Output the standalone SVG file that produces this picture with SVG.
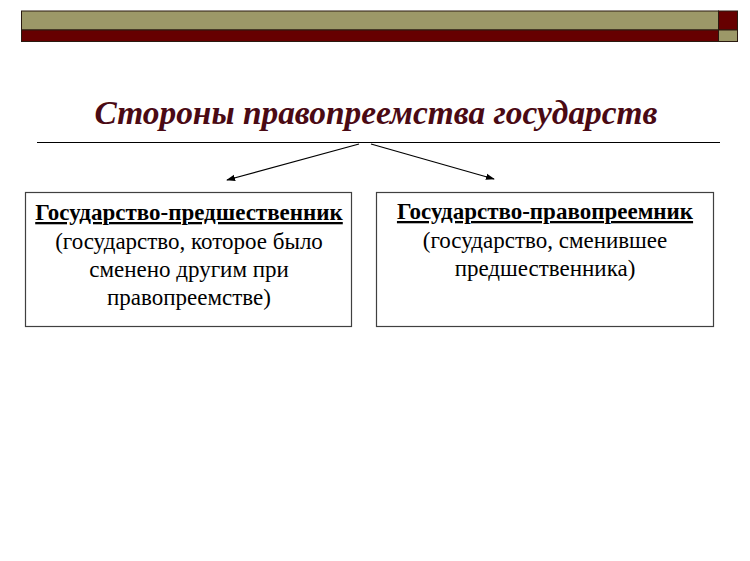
<svg xmlns="http://www.w3.org/2000/svg" width="750" height="561" viewBox="0 0 750 561">
<defs>
<style>
.bar{stroke:#2a1a10;stroke-width:1}
.olive{fill:#9c9868}
.red{fill:#660000}
.box{fill:#ffffff;stroke:#404040;stroke-width:1.2}
.t{font-family:"Liberation Serif","Times New Roman",serif;font-size:23px;fill:#000;text-anchor:middle}
.b{font-weight:bold;text-decoration:underline}
.title{font-family:"Liberation Serif","Times New Roman",serif;font-size:33.4px;font-weight:bold;font-style:italic;fill:#4a0a14;text-anchor:middle}
.conn{stroke:#000;stroke-width:1.2;fill:none}
</style>
<marker id="ah" viewBox="0 0 10 10" refX="9" refY="5" markerWidth="9" markerHeight="9" markerUnits="userSpaceOnUse" orient="auto">
<path d="M0,1.5 L10,5 L0,8.5 Z" fill="#000"/>
</marker>
</defs>
<rect width="750" height="561" fill="#ffffff"/>
<g id="header">
<rect class="bar olive" x="21.5" y="11" width="697" height="19"/>
<rect class="bar red" x="21.5" y="30" width="697" height="11.5"/>
<rect class="bar red" x="718.5" y="11" width="19" height="19"/>
<rect class="bar olive" x="718.5" y="30" width="19" height="11.5"/>
</g>
<g id="title">
<text class="title" x="376" y="124">Стороны правопреемства государств</text>
<line x1="37" y1="142.5" x2="720" y2="142.5" stroke="#000" stroke-width="1.2"/>
</g>
<g id="connectors">
<line class="conn" x1="359" y1="144" x2="227" y2="180" marker-end="url(#ah)"/>
<line class="conn" x1="371" y1="144" x2="494" y2="179" marker-end="url(#ah)"/>
</g>
<g id="predecessor">
<rect class="box" x="25.5" y="192.5" width="326" height="134"/>
<text class="t b" x="189" y="220">Государство-предшественник</text>
<text class="t" x="189" y="249">(государство, которое было</text>
<text class="t" x="189" y="277">сменено другим при</text>
<text class="t" x="189" y="305">правопреемстве)</text>
</g>
<g id="successor">
<rect class="box" x="376.5" y="192.5" width="337" height="134"/>
<text class="t b" x="545" y="219">Государство-правопреемник</text>
<text class="t" x="545" y="248">(государство, сменившее</text>
<text class="t" x="545" y="276">предшественника)</text>
</g>
</svg>
